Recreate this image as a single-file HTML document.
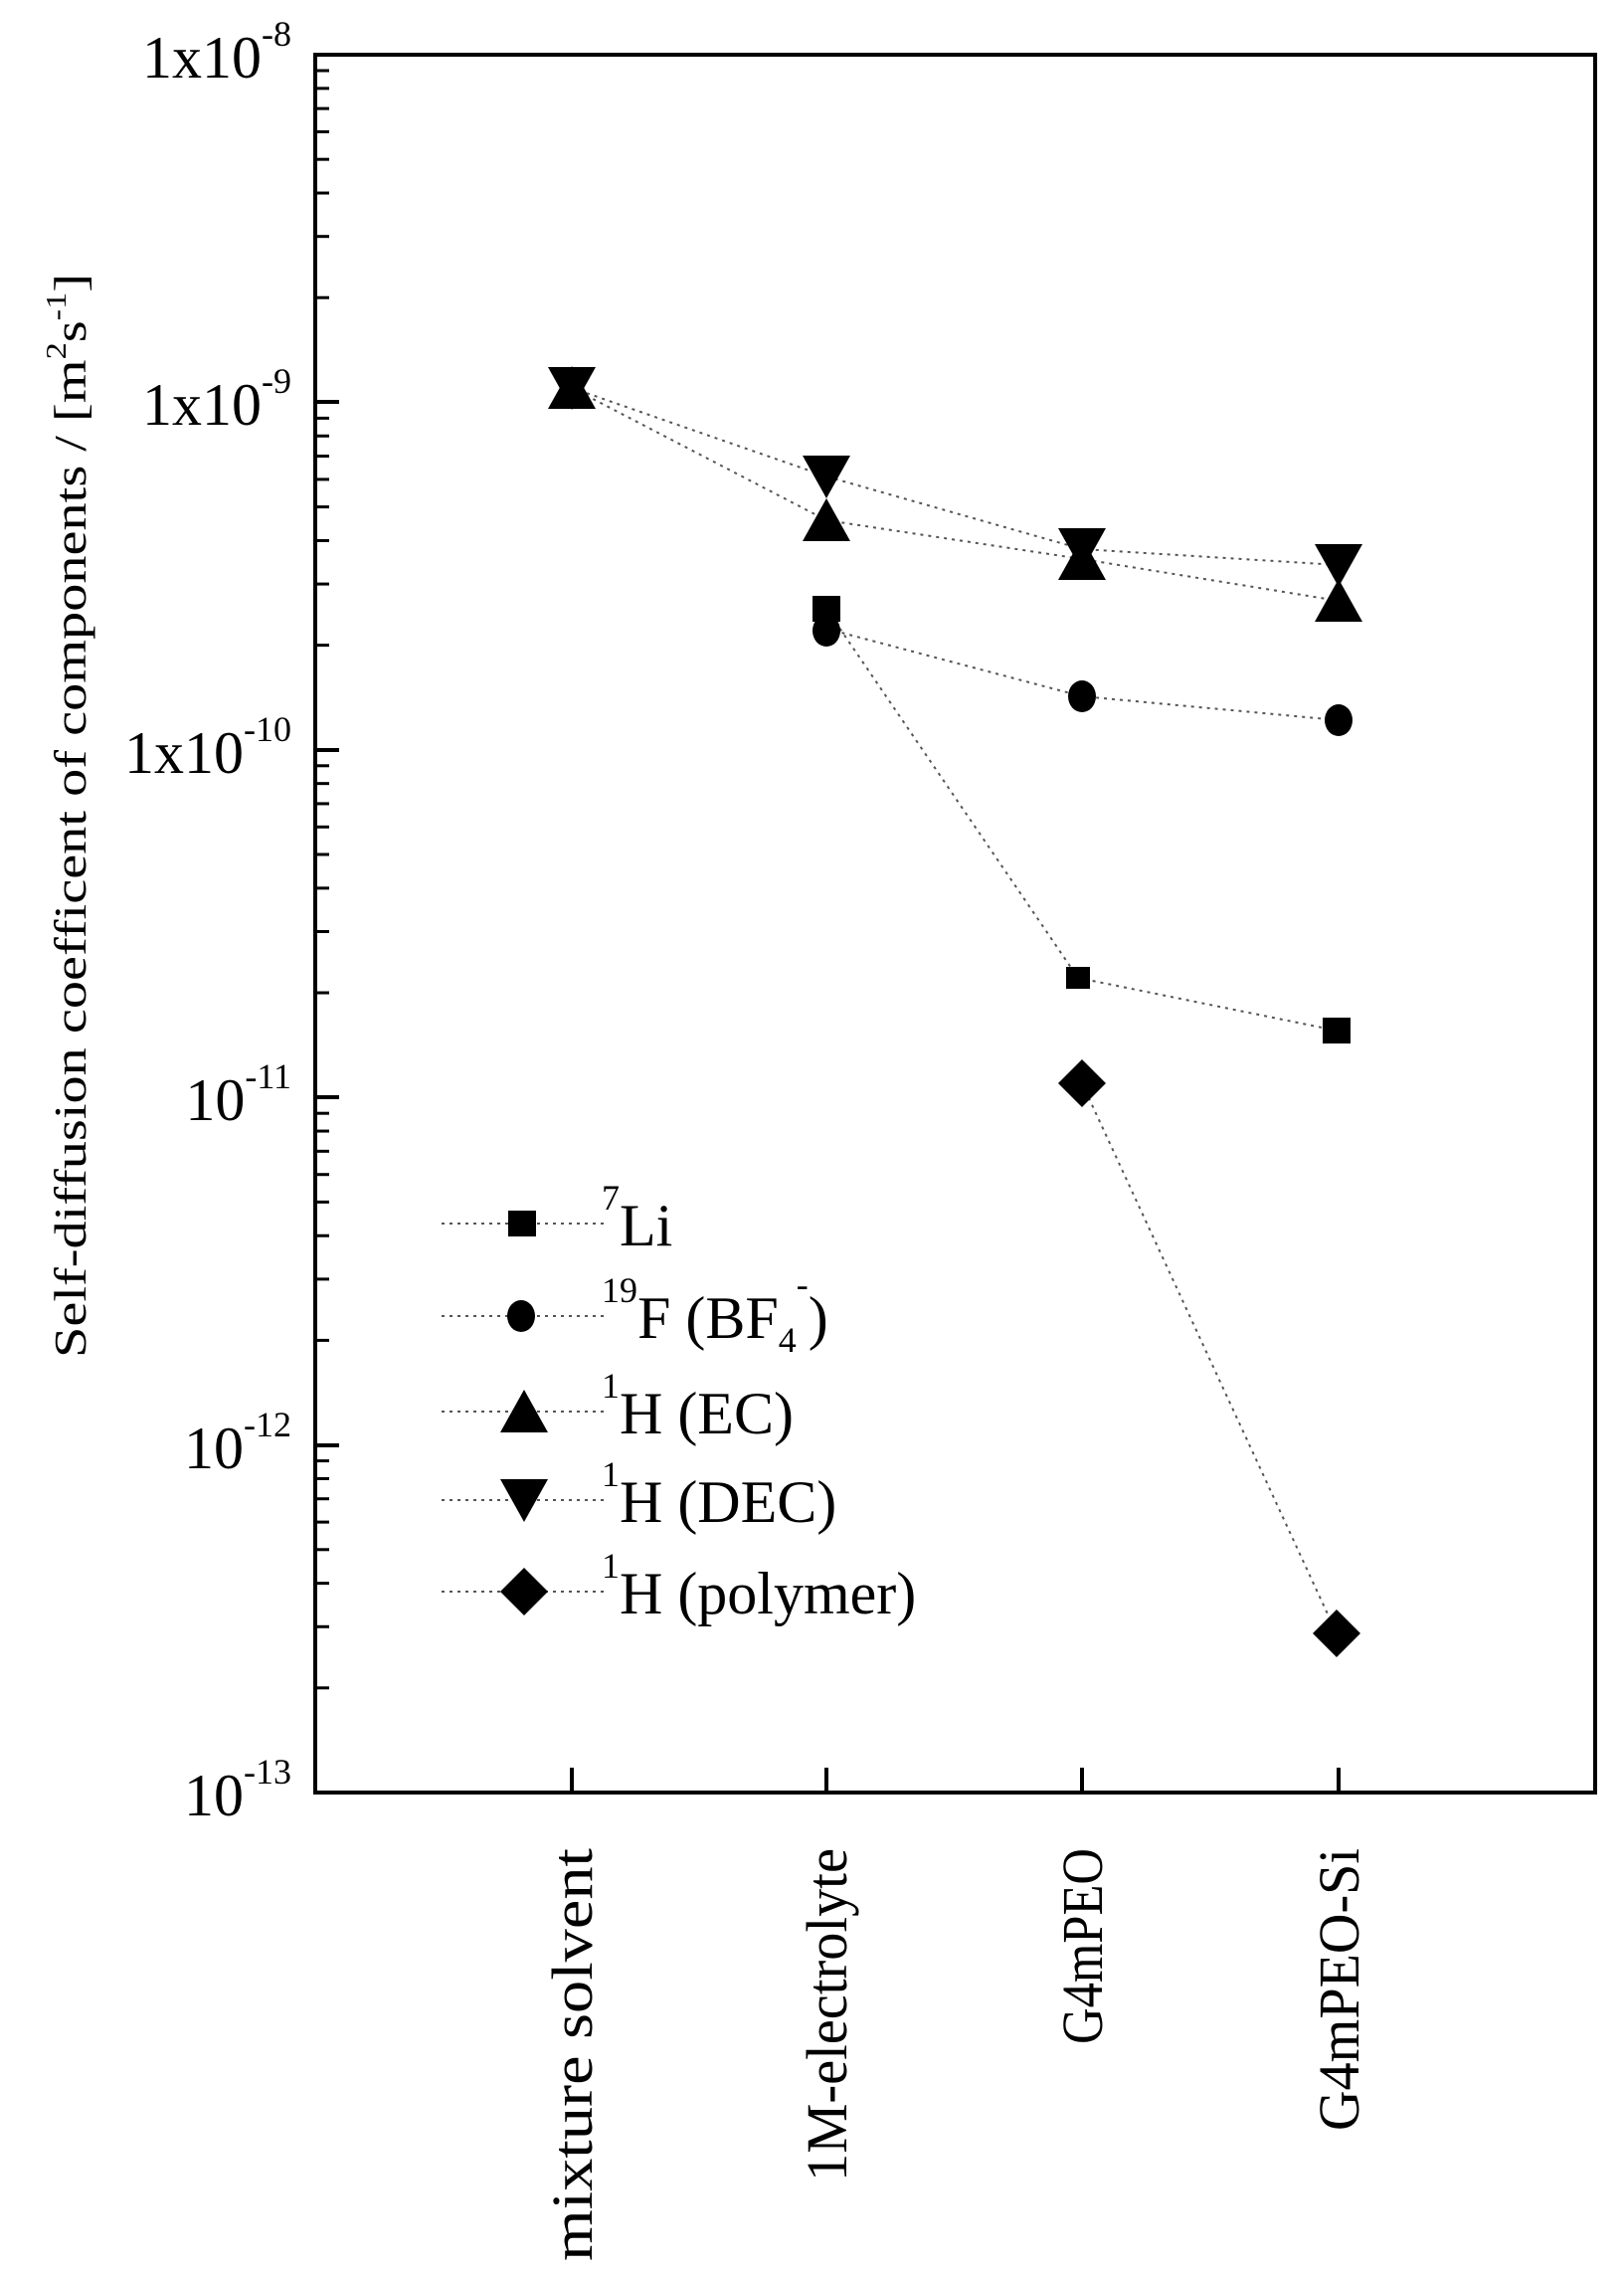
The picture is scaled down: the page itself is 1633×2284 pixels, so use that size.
<!DOCTYPE html>
<html><head><meta charset="utf-8"><style>
html,body{margin:0;padding:0;background:#fff}
svg{display:block}
text{font-family:"Liberation Serif",serif;fill:#000}
</style></head><body>
<svg width="1633" height="2284" viewBox="0 0 1633 2284" xmlns="http://www.w3.org/2000/svg">
<defs>
<path id="sq" d="M-14,-13h28v26h-28z"/>
<path id="sqs" d="M-12,-11h24v22h-24z"/>
<ellipse id="ci" rx="14" ry="16"/>
<path id="up" d="M0,-22L24,21H-24Z"/>
<path id="dn" d="M0,22L24,-21H-24Z"/>
<path id="di" d="M0,-24L24,0L0,24L-24,0Z"/>
</defs>
<!-- axes box -->
<rect x="317" y="55" width="1287" height="1747" fill="none" stroke="#000" stroke-width="4"/>
<g stroke="#000" stroke-width="4">
<line x1="317" y1="55" x2="341" y2="55"/>
<line x1="317" y1="404" x2="341" y2="404"/>
<line x1="317" y1="754" x2="341" y2="754"/>
<line x1="317" y1="1103" x2="341" y2="1103"/>
<line x1="317" y1="1453" x2="341" y2="1453"/>
<line x1="575" y1="1802" x2="575" y2="1777"/>
<line x1="831" y1="1802" x2="831" y2="1777"/>
<line x1="1088" y1="1802" x2="1088" y2="1777"/>
<line x1="1346" y1="1802" x2="1346" y2="1777"/>
</g>
<g stroke="#000" stroke-width="3" id="minor"></g>
<script>
(function(){var g=document.getElementById('minor');var ns='http://www.w3.org/2000/svg';
for(var d=0;d<5;d++){var base=1802-349.4*d;for(var k=2;k<10;k++){var y=base-349.4*Math.log10(k);
var l=document.createElementNS(ns,'line');l.setAttribute('x1',317);l.setAttribute('x2',331);l.setAttribute('y1',y);l.setAttribute('y2',y);g.appendChild(l);}}})();
</script>
<!-- y tick labels -->
<g font-size="60" text-anchor="end">
<text x="293" y="78">1x10<tspan font-size="36" dy="-32">-8</tspan></text>
<text x="293" y="427">1x10<tspan font-size="36" dy="-32">-9</tspan></text>
<text x="293" y="777">1x10<tspan font-size="36" dy="-32">-10</tspan></text>
<text x="293" y="1126">10<tspan font-size="36" dy="-32">-11</tspan></text>
<text x="293" y="1476">10<tspan font-size="36" dy="-32">-12</tspan></text>
<text x="293" y="1825">10<tspan font-size="36" dy="-32">-13</tspan></text>
</g>
<!-- y title -->
<text transform="translate(86,820) rotate(-90)" font-size="46" text-anchor="middle" textLength="1090" lengthAdjust="spacingAndGlyphs">Self-diffusion coefficent of components / [m<tspan font-size="28" dy="-20">2</tspan><tspan dy="20">s</tspan><tspan font-size="28" dy="-20">-1</tspan><tspan dy="20">]</tspan></text>
<!-- x labels -->
<g font-size="58" text-anchor="end">
<text transform="translate(595,1858) rotate(-90)" textLength="415" lengthAdjust="spacingAndGlyphs">mixture solvent</text>
<text transform="translate(851,1858) rotate(-90)" textLength="335" lengthAdjust="spacingAndGlyphs">1M-electrolyte</text>
<text transform="translate(1108,1858) rotate(-90)" textLength="197" lengthAdjust="spacingAndGlyphs">G4mPEO</text>
<text transform="translate(1366,1858) rotate(-90)" textLength="284" lengthAdjust="spacingAndGlyphs">G4mPEO-Si</text>
</g>
<!-- series lines -->
<g fill="none" stroke="#555" stroke-width="2" stroke-dasharray="3,5">
<polyline points="575,390 831,479 1088,552 1346,568"/>
<polyline points="575,390 831,523 1088,562 1346,604"/>
<polyline points="831,632 1088,700 1346,724"/>
<polyline points="831,612 1084,983 1344,1036"/>
<polyline points="1088,1089 1344,1642"/>
</g>
<!-- markers -->
<g fill="#000">
<use href="#up" x="575" y="390"/><use href="#dn" x="575" y="390"/>
<use href="#dn" x="831" y="479"/><use href="#up" x="831" y="523"/>
<use href="#sq" x="831" y="612"/><use href="#ci" x="831" y="634"/>
<use href="#dn" x="1088" y="552"/><use href="#up" x="1088" y="562"/>
<use href="#ci" x="1088" y="700"/>
<use href="#sqs" x="1084" y="983"/>
<use href="#di" x="1088" y="1089"/>
<use href="#dn" x="1346" y="568"/><use href="#up" x="1346" y="604"/>
<use href="#ci" x="1346" y="724"/>
<use href="#sq" x="1344" y="1036"/>
<use href="#di" x="1344" y="1642"/>
</g>
<!-- legend -->
<g fill="none" stroke="#555" stroke-width="2" stroke-dasharray="3,5">
<line x1="444" y1="1230" x2="612" y2="1230"/>
<line x1="444" y1="1323" x2="612" y2="1323"/>
<line x1="444" y1="1419" x2="612" y2="1419"/>
<line x1="444" y1="1508" x2="612" y2="1508"/>
<line x1="444" y1="1600" x2="612" y2="1600"/>
</g>
<g fill="#000">
<use href="#sq" x="525" y="1230"/>
<use href="#ci" x="524" y="1323"/>
<use href="#up" x="527" y="1419"/>
<use href="#dn" x="527" y="1508"/>
<use href="#di" x="527" y="1600"/>
</g>
<g font-size="60">
<text x="605" y="1252"><tspan font-size="36" dy="-36">7</tspan><tspan dy="36">Li</tspan></text>
<text x="605" y="1345"><tspan font-size="36" dy="-36">19</tspan><tspan dy="36">F (BF</tspan><tspan font-size="36" dy="14">4</tspan><tspan font-size="36" dy="-56">-</tspan><tspan dy="42">)</tspan></text>
<text x="605" y="1441"><tspan font-size="36" dy="-36">1</tspan><tspan dy="36">H (EC)</tspan></text>
<text x="605" y="1530"><tspan font-size="36" dy="-36">1</tspan><tspan dy="36">H (DEC)</tspan></text>
<text x="605" y="1622"><tspan font-size="36" dy="-36">1</tspan><tspan dy="36">H (polymer)</tspan></text>
</g>
</svg>
</body></html>
